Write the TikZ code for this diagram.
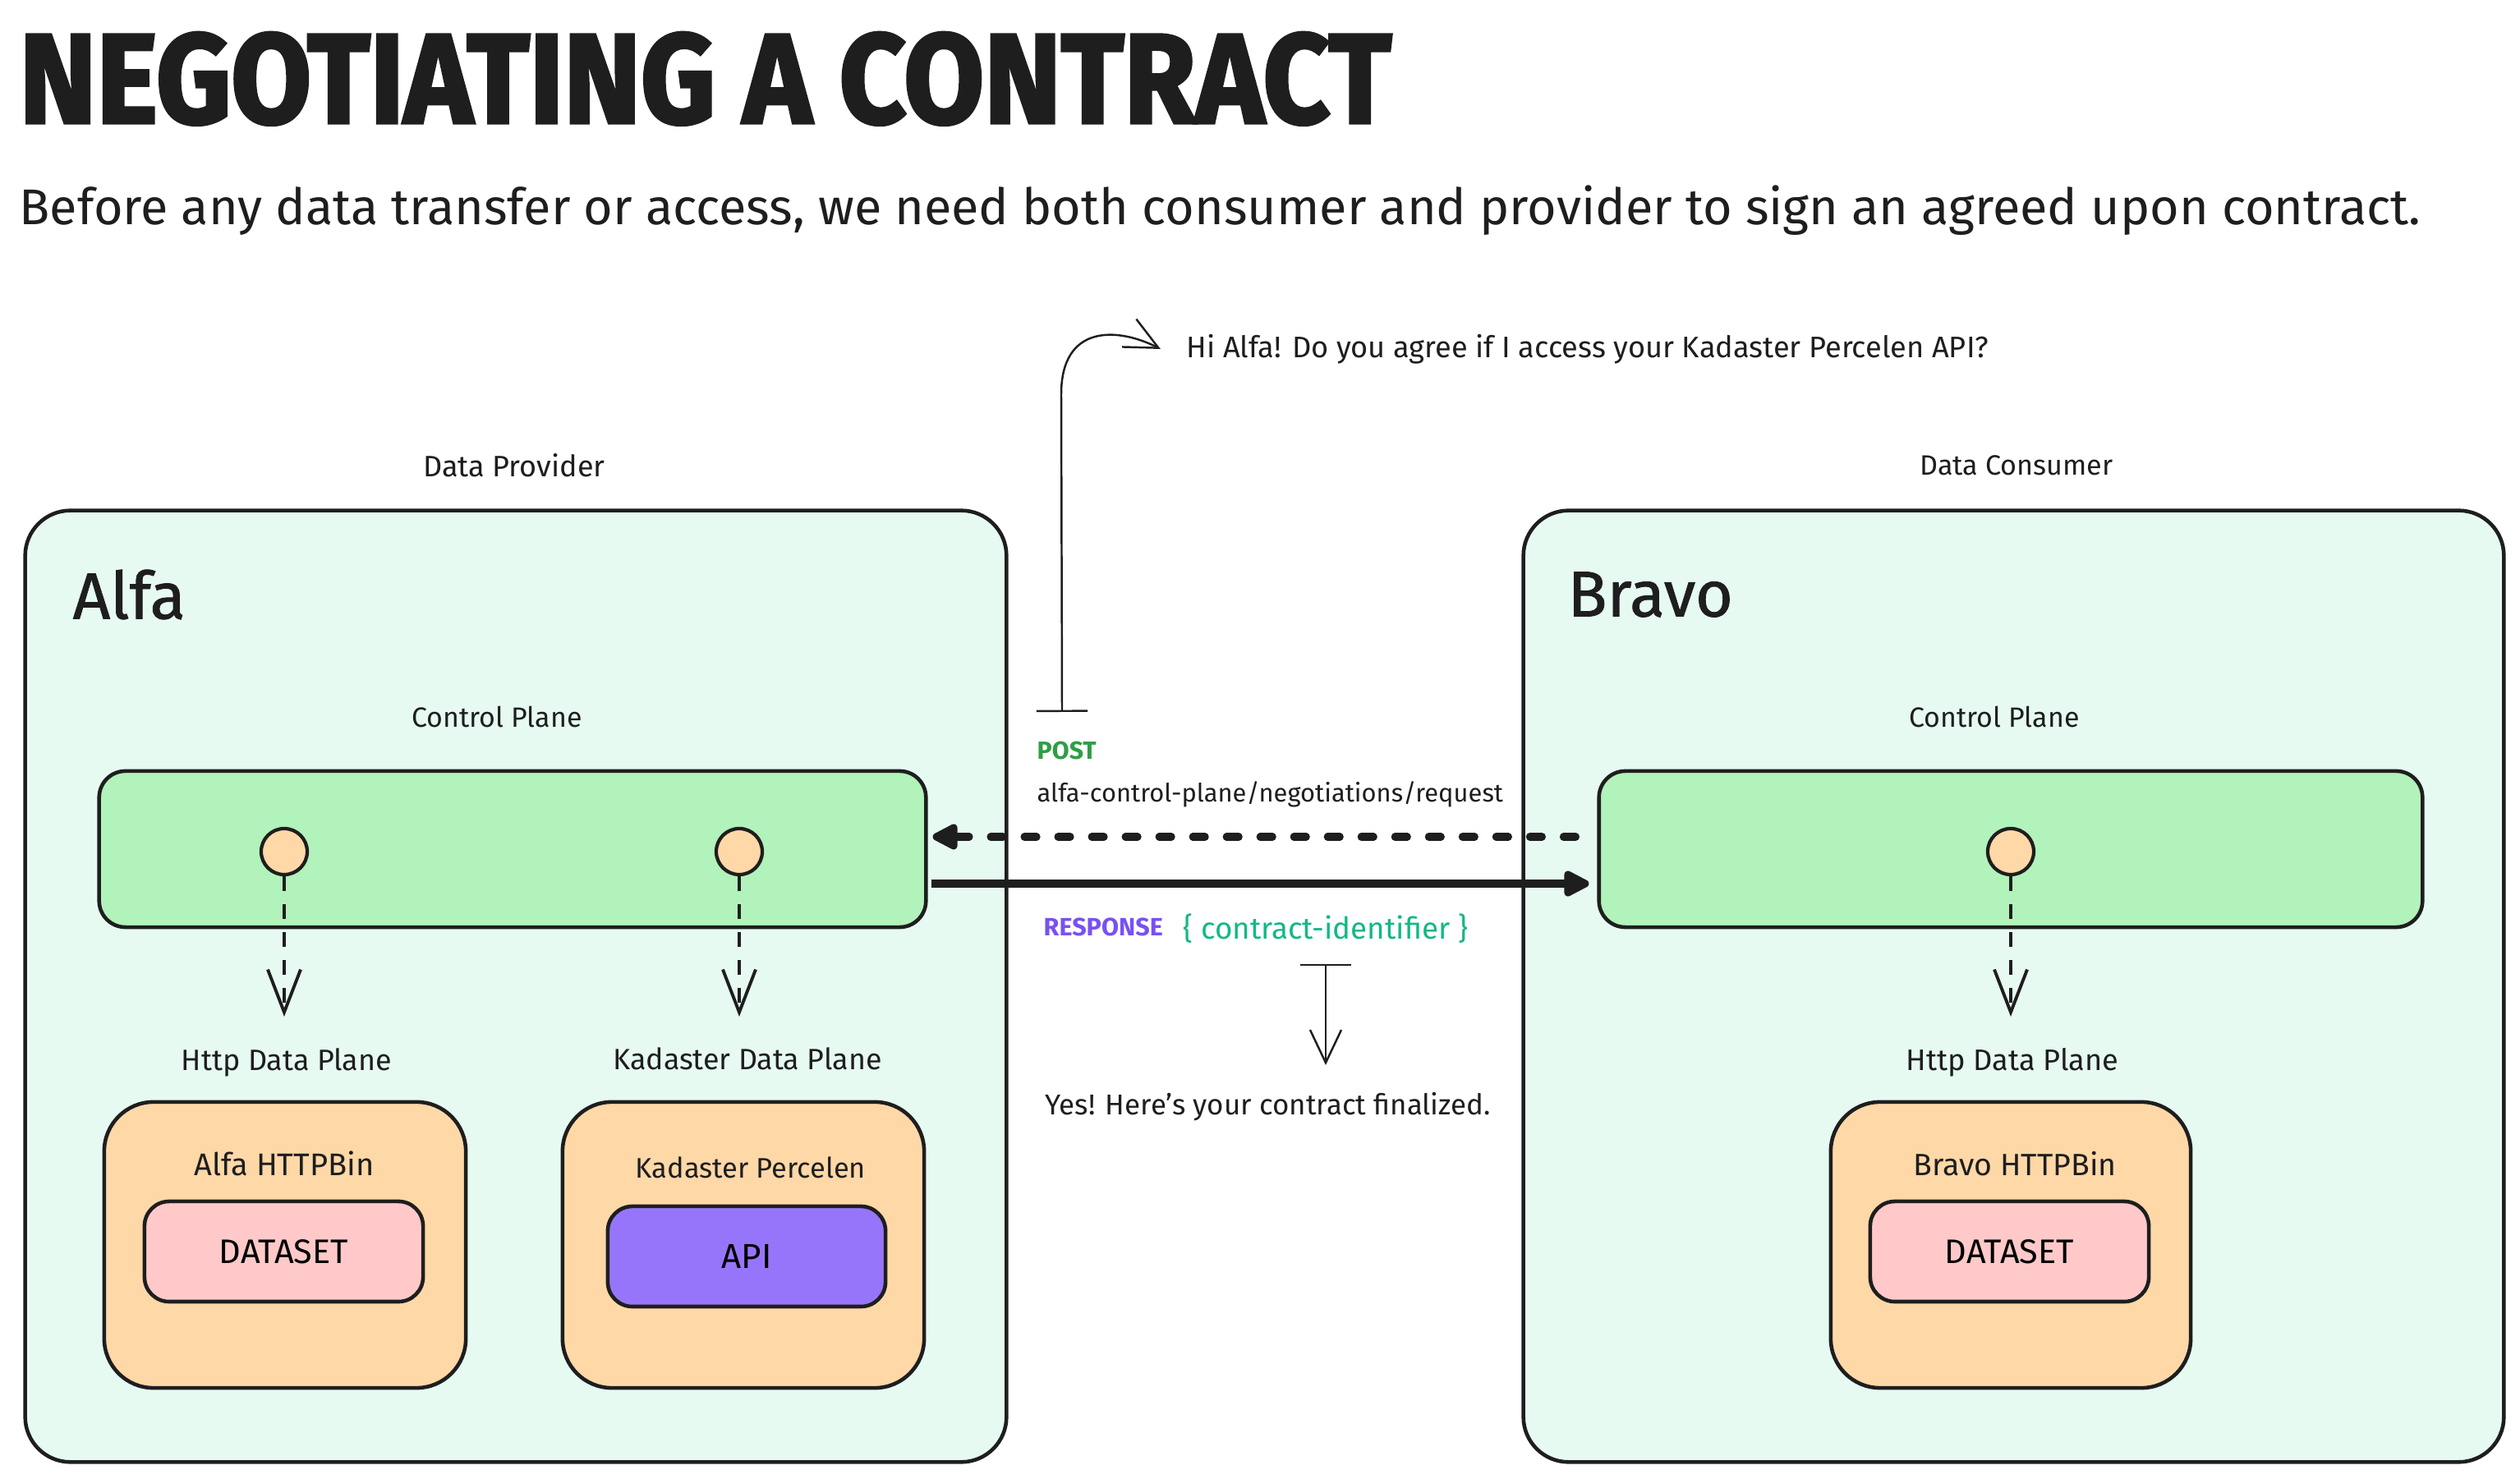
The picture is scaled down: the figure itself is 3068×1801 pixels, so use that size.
\documentclass[tikz,border=0pt]{standalone}
\usepackage{fontspec}
\setmainfont{Fira Sans}
\newfontfamily\titlefont[FakeBold=2.5]{Fira Sans}
\usetikzlibrary{arrows.meta}
\definecolor{ink}{HTML}{1E1E1E}
\definecolor{mint}{HTML}{E6FAF2}
\definecolor{cpgreen}{HTML}{B2F2BB}
\definecolor{apporange}{HTML}{FFD8A8}
\definecolor{datapink}{HTML}{FFC9C9}
\definecolor{apiviolet}{HTML}{9775FA}
\definecolor{postgreen}{HTML}{2F9E44}
\definecolor{respviolet}{HTML}{7950F2}
\definecolor{idteal}{HTML}{12B886}
\newcommand{\tw}[2]{\resizebox{#1}{!}{#2}}
\begin{document}
\begin{tikzpicture}[x=0.01cm,y=-0.01cm,
  outerbox/.style={draw=ink, fill=mint, line width=1.3pt, rounded corners=0.55cm, inner sep=0},
  cpbox/.style={draw=ink, fill=cpgreen, line width=1.3pt, rounded corners=0.32cm, inner sep=0, minimum height=1.90cm},
  appbox/.style={draw=ink, fill=apporange, line width=1.3pt, rounded corners=0.6cm, inner sep=0, minimum width=4.40cm, minimum height=3.48cm},
  databox/.style={draw=ink, line width=1.3pt, rounded corners=0.3cm, inner sep=0, minimum width=3.39cm, minimum height=1.22cm},
  port/.style={circle, draw=ink, fill=apporange, line width=1.2pt, minimum size=0.56cm, inner sep=0},
  lbl/.style={inner sep=0, text=ink},
  dataflow/.style={draw=ink, line width=1.1pt, dash pattern=on 0.18cm off 0.16cm, -{Straight Barb[length=0.52cm,width=0.4cm,line width=1.1pt]}},
  req/.style={draw=ink, line width=2.6pt, line cap=round, dash pattern=on 0.15cm off 0.26cm, -{Triangle[length=0.36cm,width=0.34cm,round]}},
  resp/.style={draw=ink, line width=2.6pt, -{Triangle[length=0.36cm,width=0.34cm,round]}},
  note/.style={draw=ink, line width=0.7pt, {Bar[width=0.62cm,line width=0.7pt]}-{Straight Barb[length=0.4cm,width=0.38cm,line width=0.7pt]}}
]
\useasboundingbox[fill=white] (0,0) rectangle (3068,1801);

% title and subtitle
\node[lbl, anchor=south west] (title) at (23,153) {\resizebox{16.69cm}{1.10cm}{\titlefont\bfseries NEGOTIATING A CONTRACT}};
\node[lbl, anchor=base west] (subtitle) at (23,274) {\tw{29.22cm}{Before any data transfer or access, we need both consumer and provider to sign an agreed upon contract.}};

% section captions
\node[lbl] (provcap) at (626,567) {\tw{2.21cm}{Data Provider}};
\node[lbl] (conscap) at (2455,567) {\tw{2.35cm}{Data Consumer}};

% outer boxes
\node[outerbox, minimum width=11.94cm, minimum height=11.58cm] (alfa) at (628,1201) {};
\node[outerbox, minimum width=11.93cm, minimum height=11.58cm] (bravo) at (2451.5,1201) {};
\node[lbl, anchor=west] (alfaname) at (88,724) {\tw{1.37cm}{\addfontfeature{FakeBold=1}Alfa}};
\node[lbl, anchor=west] (bravoname) at (1908,724) {\tw{2.01cm}{\addfontfeature{FakeBold=1}Bravo}};

% control planes
\node[lbl] (acpcap) at (605,873) {\tw{2.07cm}{Control Plane}};
\node[lbl] (bcpcap) at (2428,873) {\tw{2.07cm}{Control Plane}};
\node[cpbox, minimum width=10.06cm] (acp) at (624,1034) {};
\node[cpbox, minimum width=10.02cm] (bcp) at (2448,1034) {};

% ports
\node[port] (pa1) at (346,1037) {};
\node[port] (pa2) at (900,1037) {};
\node[port] (pb1) at (2448,1037) {};

% data plane captions
\node[lbl] (adp1cap) at (349,1294) {\tw{2.56cm}{Http Data Plane}};
\node[lbl] (adp2cap) at (910,1289) {\tw{3.27cm}{Kadaster Data Plane}};
\node[lbl] (bdp1cap) at (2450,1294) {\tw{2.58cm}{Http Data Plane}};

% data plane apps
\node[appbox] (ahttp) at (347,1516) {};
\node[appbox] (akad) at (905,1516) {};
\node[appbox, minimum width=4.38cm] (bhttp) at (2448,1516) {};
\node[lbl] (ahttpcap) at (346,1417) {\tw{2.19cm}{Alfa HTTPBin}};
\node[lbl] (akadcap) at (914,1422) {\tw{2.80cm}{Kadaster Percelen}};
\node[lbl] (bhttpcap) at (2453,1417) {\tw{2.47cm}{Bravo HTTPBin}};
\node[databox, fill=datapink] (adata) at (345.5,1524) {\tw{1.57cm}{DATASET}};
\node[databox, fill=apiviolet, minimum width=3.38cm] (aapi) at (909,1530) {\tw{0.61cm}{API}};
\node[databox, fill=datapink] (bdata) at (2446.5,1524) {\tw{1.57cm}{DATASET}};

% port to data plane arrows
\coordinate (ta1) at (346,1238);
\coordinate (ta2) at (900,1238);
\coordinate (tb1) at (2448,1238);
\draw[dataflow] (pa1.south) -- (ta1);
\draw[dataflow] (pa2.south) -- (ta2);
\draw[dataflow] (pb1.south) -- (tb1);

% request / response arrows
\draw[req] ([xshift=-0.26cm,yshift=0.15cm]bcp.west) -- ([xshift=0.06cm,yshift=0.15cm]acp.east);
\draw[resp] ([xshift=0.04cm,yshift=-0.42cm]acp.east) -- ([xshift=-0.10cm,yshift=-0.42cm]bcp.west);

% request labels
\node[lbl, anchor=west, text=postgreen] (post) at (1262,914) {\tw{0.72cm}{\bfseries POST}};
\node[lbl, anchor=west] (endpoint) at (1262,967) {\tw{5.67cm}{alfa-control-plane/negotiations/request}};
\node[lbl, anchor=west, text=respviolet] (response) at (1270,1129) {\tw{1.45cm}{\bfseries RESPONSE}};
\node[lbl, anchor=west, text=idteal] (cid) at (1440,1131) {\tw{3.46cm}{\{ contract-identifier \}}};

% notes
\node[lbl, anchor=west] (hi) at (1444,425) {\tw{9.76cm}{Hi Alfa! Do you agree if I access your Kadaster Percelen API?}};
\coordinate (hiStart) at (1293,867);
\draw[note] (hiStart) -- (1292,480) .. controls (1292,395) and (1360,398) .. ([xshift=-0.31cm]hi.west);

\node[lbl, anchor=west] (yes) at (1272,1348) {\tw{5.42cm}{Yes! Here's your contract finalized.}};
\coordinate (resS) at (1614,1174);
\coordinate (resE) at (1614,1297);
\draw[note] (resS) -- (resE);
\end{tikzpicture}
\end{document}
